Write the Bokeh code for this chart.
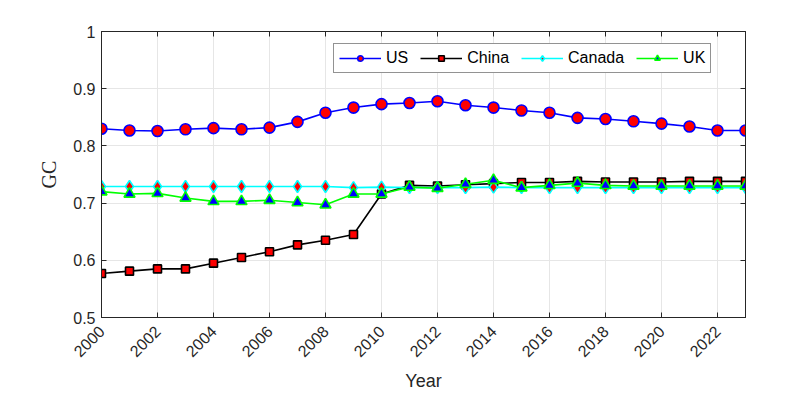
from bokeh.plotting import figure
from bokeh.models import FixedTicker, LinearAxis, Range1d, Legend, LegendItem
from bokeh.embed import file_html
from bokeh.resources import INLINE
import math

years = list(range(2000, 2024))
us = [0.830, 0.827, 0.826, 0.829, 0.831, 0.829, 0.832, 0.842, 0.858, 0.867, 0.873, 0.875,
      0.878, 0.871, 0.867, 0.862, 0.858, 0.849, 0.847, 0.843, 0.839, 0.834, 0.827, 0.827]
china = [0.577, 0.581, 0.585, 0.585, 0.595, 0.605, 0.615, 0.627, 0.635, 0.645, 0.716, 0.731,
         0.730, 0.732, 0.734, 0.736, 0.736, 0.738, 0.737, 0.737, 0.737, 0.738, 0.738, 0.738]
canada = [0.729, 0.729, 0.729, 0.729, 0.729, 0.729, 0.729, 0.729, 0.729, 0.727, 0.728, 0.727,
          0.727, 0.727, 0.728, 0.727, 0.727, 0.727, 0.727, 0.727, 0.727, 0.727, 0.727, 0.727]
uk = [0.720, 0.716, 0.717, 0.709, 0.703, 0.703, 0.705, 0.701, 0.697, 0.716, 0.716, 0.728,
      0.726, 0.733, 0.740, 0.727, 0.731, 0.735, 0.731, 0.730, 0.730, 0.730, 0.730, 0.730]

x_ticks = list(range(2000, 2023, 2))
y_ticks = [0.5, 0.6, 0.7, 0.8, 0.9, 1.0]
y_labels = ["0.5", "0.6", "0.7", "0.8", "0.9", "1"]

AX = "#262626"
FONT = "Liberation Sans"

p = figure(output_backend="svg", toolbar_location=None,
           width=785, height=397,
           x_range=Range1d(2000, 2023), y_range=Range1d(0.5, 1.0),
           min_border_left=101, min_border_right=40, min_border_top=31, min_border_bottom=80)
p.frame_width = 644
p.frame_height = 286
p.background_fill_color = "white"
p.border_fill_color = "white"
p.outline_line_color = AX
p.outline_line_width = 1

for ax in (p.xaxis[0], p.yaxis[0]):
    ax.axis_line_color = AX
    ax.major_tick_line_color = AX
    ax.major_tick_in = 5
    ax.major_tick_out = 0
    ax.minor_tick_line_color = None
    ax.major_label_text_color = AX
    ax.major_label_text_font = FONT
    ax.major_label_text_font_size = "16px"
    ax.axis_label_text_color = AX
    ax.axis_label_text_font_style = "normal"

p.xaxis.ticker = FixedTicker(ticks=x_ticks)
p.xaxis.major_label_orientation = math.pi / 4
p.xaxis.major_label_standoff = 11
p.xaxis.axis_label = "Year"
p.xaxis.axis_label_text_font = FONT
p.xaxis.axis_label_text_font_size = "18px"
p.xaxis.axis_label_standoff = 6

p.yaxis.ticker = FixedTicker(ticks=y_ticks)
p.yaxis.major_label_overrides = {t: l for t, l in zip(y_ticks, y_labels)}
p.yaxis.major_label_standoff = 6
p.yaxis.axis_label = "GC"
p.yaxis.axis_label_text_font = "Liberation Serif"
p.yaxis.axis_label_text_font_size = "20px"
p.yaxis.axis_label_standoff = 10

# mirrored axes (top/right) with ticks only
top = LinearAxis(ticker=FixedTicker(ticks=x_ticks), major_label_text_font_size="0px",
                 major_label_text_color=None,
                 axis_line_color=AX, major_tick_line_color=AX, major_tick_in=5, major_tick_out=0,
                 minor_tick_line_color=None)
right = LinearAxis(ticker=FixedTicker(ticks=y_ticks), major_label_text_font_size="0px",
                   major_label_text_color=None,
                   axis_line_color=AX, major_tick_line_color=AX, major_tick_in=5, major_tick_out=0,
                   minor_tick_line_color=None)
p.add_layout(top, "above")
p.add_layout(right, "right")

p.xgrid.ticker = FixedTicker(ticks=x_ticks)
p.ygrid.ticker = FixedTicker(ticks=y_ticks)
p.grid.grid_line_color = "#e6e6e6"
p.grid.grid_line_width = 1

items = []
l1 = p.line(years, us, line_color="blue", line_width=1.6)
s1 = p.scatter(years, us, marker="circle", size=11, fill_color="red", line_color="blue", line_width=1.6)
items.append(LegendItem(label="US", renderers=[l1, s1]))
l2 = p.line(years, china, line_color="black", line_width=1.6)
s2 = p.scatter(years, china, marker="square", size=8, fill_color="red", line_color="black", line_width=1.6)
items.append(LegendItem(label="China", renderers=[l2, s2]))
l3 = p.line(years, canada, line_color="cyan", line_width=1.6)
s3 = p.scatter(years, canada, marker="diamond", size=12, fill_color="red", line_color="cyan", line_width=1.6)
items.append(LegendItem(label="Canada", renderers=[l3, s3]))
l4 = p.line(years, uk, line_color="#00ff00", line_width=1.6)
s4 = p.scatter(years, uk, marker="triangle", size=11, fill_color="blue", line_color="#00ff00", line_width=1.6)
items.append(LegendItem(label="UK", renderers=[l4, s4]))

legend = Legend(items=items, orientation="horizontal", location=(232, 244),
                label_text_font=FONT, label_text_font_size="16px", label_text_color="black",
                glyph_width=42, glyph_height=14, label_standoff=5, spacing=12,
                padding=5, margin=0,
                border_line_color=AX, border_line_width=1,
                background_fill_color="white", background_fill_alpha=1.0)
p.add_layout(legend, "center")

open("out.html", "w").write(file_html(p, INLINE))
